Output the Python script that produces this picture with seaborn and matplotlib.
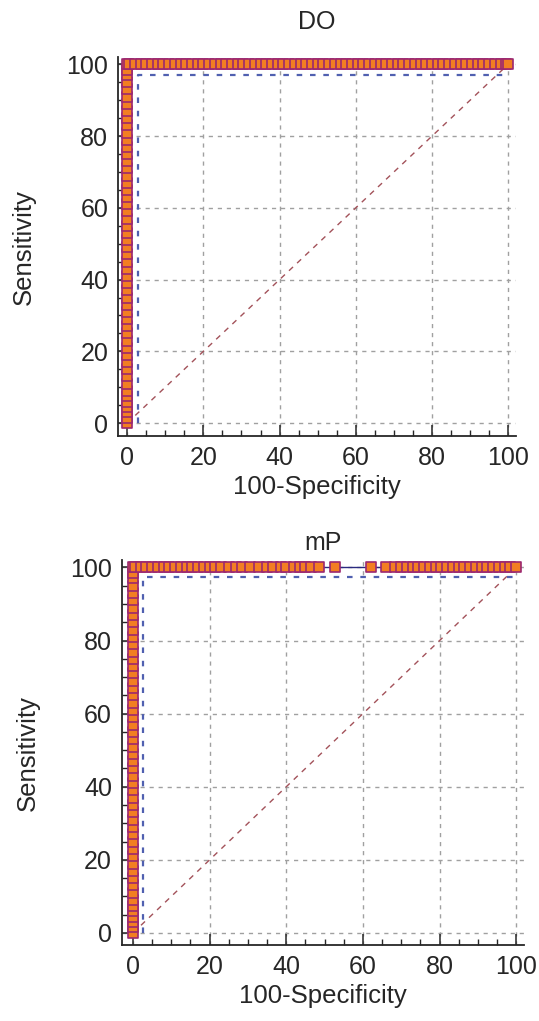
import matplotlib
matplotlib.use("Agg")
import matplotlib.pyplot as plt
import seaborn as sns
import pandas as pd
from matplotlib.ticker import MultipleLocator

sns.set_theme(style="white")
plt.rcParams['font.family'] = ['Liberation Sans', 'DejaVu Sans']

# ---- data ----
titles = ["DO", "mP"]
tick_values = [0, 20, 40, 60, 80, 100]

# DO: vertical section (100-Specificity = 0)
do_vert_sens = [0, 1.5, 3, 4.5, 6, 7.5, 9, 11, 13, 15, 17, 19, 21, 23, 25, 27, 29, 31,
                33, 35, 37, 39, 41, 43, 45, 47, 49, 51, 53, 55, 57, 59, 61, 63, 65, 67,
                69, 71, 73, 75, 77, 79, 81, 83, 85, 87, 89, 91, 93, 95, 97, 98.5, 100]
# DO: horizontal section (Sensitivity = 100)
do_horiz_fpr = [0.5, 2, 3.5, 5, 6.5, 8, 9.5, 11, 12.5, 14, 15.5, 17, 18.5, 20, 21.5, 23,
                24.5, 26, 27.5, 29, 30.5, 32, 33.5, 35, 36.5, 38, 39.5, 41, 42.5, 44, 45.5,
                47, 48.5, 50, 51.5, 53, 54.5, 56, 57.5, 59, 60.5, 62, 63.5, 65, 66.5, 68,
                69.5, 71, 72.5, 74, 75.5, 77, 78.5, 80, 81.5, 83, 84.5, 86, 87.5, 89, 90.5,
                92, 93.5, 95, 96.5, 98, 99.5, 100]

# mP: vertical section
mp_vert_sens = [0, 1.5, 3, 4.5, 6, 7.5, 9, 11, 13, 15, 17, 19, 21, 23, 25, 27, 29, 31,
                33, 35, 37, 39, 41, 43, 45, 47, 49, 51, 53, 55, 57, 59, 61, 63, 65, 67,
                69, 71, 73, 75, 77, 79, 81, 83, 85, 87, 89, 91, 93, 95, 97, 98.5, 100]
# mP: horizontal section (with gaps)
mp_horiz_fpr = [0.5, 2, 3.5, 5, 6.5, 8, 9.5, 11, 12.5, 14, 15.5, 17, 18.5, 20, 21.5, 23,
                25, 27, 28.5, 30.5, 33, 35, 36.5, 38.5, 40, 42, 43.5, 45, 46.5, 48.5,
                52.7, 62, 66, 68.5, 70, 71.5, 73, 74.5, 76, 77.5, 79, 80.5, 82, 83.5, 85,
                86.5, 88, 89.5, 91, 92.5, 94, 95.5, 97, 98.5, 100]

# confidence bound (dotted blue) per panel: (fpr offset, sens level)
ci_fpr = [2.9, 2.6]
ci_sens = [96.9, 97.3]

def build(vert, horiz):
    fpr = [0.0] * len(vert) + list(horiz)
    sens = list(vert) + [100.0] * len(horiz)
    return pd.DataFrame({"fpr": fpr, "sens": sens})

frames = [build(do_vert_sens, do_horiz_fpr), build(mp_vert_sens, mp_horiz_fpr)]

# ---- figure ----
fig = plt.figure(figsize=(5.39, 10.21), dpi=100)
ax_rects = [[0.219, 0.573, 0.738, 0.371], [0.226, 0.0744, 0.746, 0.377]]
xlims = [(-2.4, 102), (-2.9, 102)]
ylims = [(-3.6, 102), (-3.3, 102)]
title_pads = [20, 7]

grid_col = "#a0a0a0"
txt = "#262626"
for i, df in enumerate(frames):
    ax = fig.add_axes(ax_rects[i])
    ax.set_xlim(*xlims[i])
    ax.set_ylim(*ylims[i])

    # grid
    for v in tick_values:
        ax.axvline(v, color=grid_col, lw=1.0, ls=(0, (3, 3.5)), zorder=0)
        ax.axhline(v, color=grid_col, lw=1.0, ls=(0, (3, 3.5)), zorder=0)

    # diagonal reference
    sns.lineplot(x=[0, 100], y=[0, 100], ax=ax, color="#a3525a", lw=1.0,
                 linestyle=(0, (4, 4)), zorder=1)
    # confidence bound
    sns.lineplot(x=[ci_fpr[i], ci_fpr[i], 100], y=[0, ci_sens[i], ci_sens[i]], ax=ax,
                 sort=False, estimator=None, color="#5060b0", lw=1.6,
                 linestyle=(0, (2.5, 3.5)), zorder=2)
    # ROC line
    sns.lineplot(data=df, x="fpr", y="sens", ax=ax, sort=False, estimator=None,
                 color="#2a2a80", lw=1.0, zorder=3)
    # markers
    sns.scatterplot(data=df, x="fpr", y="sens", ax=ax, marker="s", s=52,
                    color="#f27e22", edgecolor="#9c2870", linewidth=1.2, zorder=4)

    ax.set_xticks(tick_values)
    ax.set_yticks(tick_values)
    ax.xaxis.set_minor_locator(MultipleLocator(5))
    ax.yaxis.set_minor_locator(MultipleLocator(5))
    ax.tick_params(which="major", direction="in", length=8, width=1.1, labelsize=18,
                   colors=txt, pad=7, bottom=True, left=True)
    ax.tick_params(which="minor", direction="in", length=4, width=1.0, bottom=True, left=True,
                   colors=txt)
    for s in ["top", "right"]:
        ax.spines[s].set_visible(False)
    for s in ["left", "bottom"]:
        ax.spines[s].set_color(txt)
        ax.spines[s].set_linewidth(1.3)

    ax.set_xlabel("100-Specificity", fontsize=18.5, color=txt, labelpad=4)
    ax.set_ylabel("Sensitivity", fontsize=18.5, color=txt, labelpad=22)
    ax.set_title(titles[i], fontsize=18, color=txt, pad=title_pads[i])

fig.savefig("out.png", dpi=100)
